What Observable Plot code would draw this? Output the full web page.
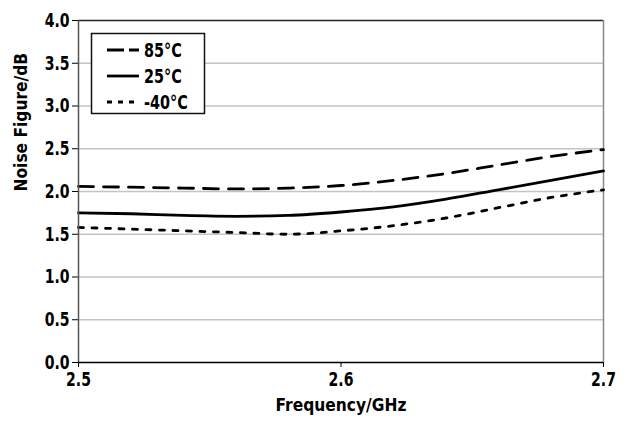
<!DOCTYPE html>
<html><head><meta charset="utf-8">
<script src="https://cdn.jsdelivr.net/npm/d3@7"></script>
<script src="https://cdn.jsdelivr.net/npm/@observablehq/plot@0.6"></script>
<style>
body{margin:0;background:#fff;}
#wrap{position:relative;width:625px;height:422px;}
</style></head><body><div id="wrap"></div>
<script>
const freqs = [2.50, 2.52, 2.54, 2.56, 2.58, 2.60, 2.62, 2.64, 2.66, 2.68, 2.70];
const nf85  = [2.06, 2.05, 2.04, 2.03, 2.04, 2.07, 2.13, 2.21, 2.31, 2.41, 2.49];
const nf25  = [1.75, 1.74, 1.72, 1.71, 1.72, 1.76, 1.82, 1.91, 2.02, 2.13, 2.24];
const nfm40 = [1.58, 1.56, 1.54, 1.52, 1.50, 1.54, 1.60, 1.69, 1.81, 1.93, 2.02];
const seriesLabels = ["85°C", "25°C", "-40°C"];
const xTicks = [2.5, 2.6, 2.7];
const yTicks = [0, 0.5, 1.0, 1.5, 2.0, 2.5, 3.0, 3.5, 4.0];
const xTitle = "Frequency/GHz";
const yTitle = "Noise Figure/dB";

const seriesValues = [nf85, nf25, nfm40];
const dashes = ["15,10", null, "5,8.5"];
const legendDashes = ["17,5", null, "5,6"];
const rows = [];
seriesLabels.forEach((s, i) => freqs.forEach((f, j) => rows.push({series: s, f, v: seriesValues[i][j]})));

const fontFamily = '"DejaVu Sans Condensed","Liberation Sans Narrow","DejaVu Sans",sans-serif';

const chart = Plot.plot({
  width: 625, height: 422,
  marginLeft: 78, marginRight: 22, marginTop: 20, marginBottom: 60,
  style: {fontFamily, fontWeight: "bold", fontSize: "19px", color: "#000", background: "#fff"},
  x: {domain: [2.5, 2.7]},
  y: {domain: [0, 4]},
  marks: [
    Plot.ruleY(yTicks.filter(v => v > 0 && v < 4), {stroke: "#c4c4c4", strokeWidth: 1.5}),
    Plot.ruleY([4], {stroke: "#222", strokeWidth: 1.3}),
    Plot.ruleX([2.7], {stroke: "#8a8a8a", strokeWidth: 1.5}),
    ...seriesLabels.map((s, i) => Plot.line(rows.filter(r => r.series === s), {
      x: "f", y: "v", stroke: "#000", strokeWidth: 2.8, curve: "monotone-x",
      strokeDasharray: dashes[i] || undefined
    })),
    Plot.axisY({ticks: yTicks, tickFormat: d3.format(".1f"), tickSize: 6, tickPadding: 3, label: null, fontSize: 19.5}),
    Plot.axisX({ticks: xTicks, tickFormat: d3.format(".1f"), tickSize: 5, tickPadding: 5, label: null, fontSize: 19.5}),
    Plot.ruleX([2.5], {stroke: "#555", strokeWidth: 1.5}),
    Plot.ruleY([0], {stroke: "#000", strokeWidth: 1.5}),
    Plot.text([xTitle], {frameAnchor: "bottom", dy: 48, fontSize: 18.5, fontWeight: "bold", fill: "#000"}),
    Plot.text([yTitle], {frameAnchor: "left", dx: -57, rotate: -90, fontSize: 18.5, fontWeight: "bold", fill: "#000"})
  ]
});

const wrap = document.getElementById("wrap");
wrap.appendChild(chart);
const svg = d3.select(chart.tagName.toLowerCase() === "svg" ? chart : chart.querySelector("svg"));

// legend (layout only, drawn in pixels)
const lg = svg.append("g").attr("font-family", fontFamily).attr("font-weight", "bold").attr("text-anchor", "start");
lg.append("rect").attr("x", 91.5).attr("y", 33.5).attr("width", 113).attr("height", 80)
  .attr("fill", "#fff").attr("stroke", "#111").attr("stroke-width", 1.5);
seriesLabels.forEach((s, i) => {
  const cy = 50 + i * 26;
  lg.append("line").attr("x1", 107).attr("x2", 139).attr("y1", cy).attr("y2", cy)
    .attr("stroke", "#000").attr("stroke-width", 2.8)
    .attr("stroke-dasharray", legendDashes[i]);
  lg.append("text").attr("x", 144).attr("y", cy).attr("dy", "0.36em")
    .attr("text-anchor", "start")
    .attr("font-size", 20).attr("fill", "#000").text(s);
});

// condense all text to mimic a bold condensed face
svg.selectAll("text").each(function() {
  const w = this.getComputedTextLength();
  const isTitle = this.textContent === xTitle || this.textContent === yTitle;
  const k = isTitle ? 0.93 : 0.8;
  if (w > 0) {
    this.setAttribute("textLength", (w * k).toFixed(2));
    this.setAttribute("lengthAdjust", "spacingAndGlyphs");
  }
});
</script>
</body></html>
